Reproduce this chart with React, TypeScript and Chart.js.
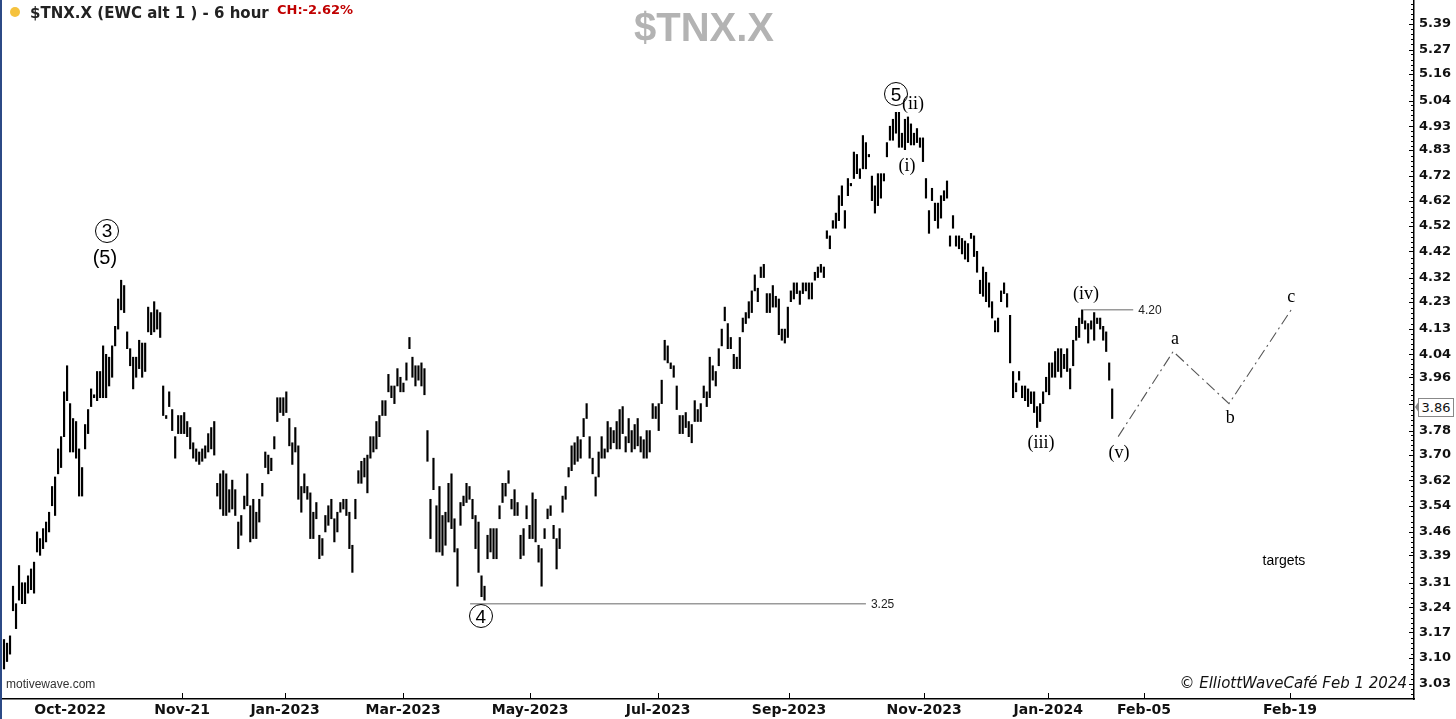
import React, { useEffect, useRef, useState } from 'react';
import { Chart, registerables } from 'chart.js';

Chart.register(...registerables);

// ---- 6-hour bars (high / low), in chronological order ----
const highs = [
  3.15,3.14,3.16,3.30,3.25,3.36,3.31,3.31,3.33,3.35,
  3.37,3.46,3.44,3.47,3.49,3.52,3.60,3.63,3.72,3.76,
  3.91,4.00,3.87,3.82,3.81,3.72,3.66,3.80,3.85,3.92,
  3.90,3.98,3.98,4.07,4.04,4.03,4.07,4.14,4.24,4.31,
  4.29,4.12,4.06,4.03,4.03,4.09,4.08,4.08,4.21,4.19,
  4.23,4.20,4.19,3.93,3.83,3.91,3.85,3.76,3.83,3.83,
  3.84,3.81,3.79,3.74,3.72,3.71,3.72,3.73,3.77,3.79,
  3.81,3.61,3.64,3.65,3.64,3.59,3.62,3.59,3.49,3.51,
  3.57,3.64,3.54,3.56,3.52,3.56,3.61,3.71,3.70,3.69,
  3.76,3.89,3.89,3.89,
  3.91,3.82,3.74,3.79,3.73,3.60,
  3.64,3.60,3.58,3.52,3.55,3.45,3.44,3.51,3.54,3.56,
  3.50,3.52,3.55,3.56,3.56,3.52,3.42,3.56,3.65,3.68,
  3.69,3.70,3.76,3.76,3.81,3.83,3.88,3.88,3.97,3.93,
  3.93,3.99,3.96,3.94,4.01,4.10,4.03,4.00,4.00,4.01,
  3.99,3.78,3.56,3.69,3.54,3.60,3.51,3.52,3.61,3.64,
  3.50,3.41,3.55,3.57,3.61,3.60,3.56,3.51,3.49,3.33,
  3.30,3.45,3.47,3.47,3.47,3.54,3.61,3.61,3.65,3.56,
  3.59,3.55,3.45,3.47,3.54,3.48,3.58,3.56,3.42,3.41,
  3.47,3.53,3.54,3.48,3.44,3.47,
  3.57,3.60,3.66,3.73,
  3.74,3.76,3.75,3.82,3.87,3.76,3.69,3.63,3.71,3.76,
  3.72,3.81,3.79,3.78,3.81,3.85,3.86,3.76,3.82,3.78,
  3.80,3.82,3.76,3.75,3.78,3.78,3.87,3.86,3.87,3.95,
  4.09,4.07,4.01,4.00,3.93,3.83,3.83,3.84,3.81,3.80,
  3.88,3.85,3.87,3.93,3.91,4.03,4.00,3.98,4.06,4.13,
  4.21,4.15,4.10,4.04,4.03,4.10,4.17,4.19,4.23,4.27,
  4.33,4.28,4.36,4.37,4.26,4.26,4.29,4.25,4.24,4.13,
  4.13,4.21,4.27,4.30,4.30,4.27,4.30,4.30,4.30,4.30,
  4.34,4.36,4.37,4.36,4.50,4.48,4.54,4.57,4.64,4.68,
  4.58,4.71,4.69,4.82,4.81,4.75,4.89,4.86,4.81,4.72,
  4.68,4.73,4.73,4.73,4.86,4.93,4.96,4.99,4.99,4.90,
  4.96,4.97,4.94,4.90,4.92,4.88,4.88,4.71,4.58,4.67,
  4.61,4.61,4.64,4.66,4.70,4.48,4.56,4.48,4.48,4.47,
  4.46,4.45,4.49,4.48,4.42,4.31,4.36,4.34,4.30,4.23,
  4.16,4.17,4.27,4.30,4.26,4.18,3.98,3.94,3.98,3.93,
  3.93,3.92,3.91,3.91,3.86,3.87,3.91,3.96,4.01,4.01,
  4.05,4.06,4.06,4.04,4.06,3.99,4.09,4.14,4.17,4.20,
  4.16,4.15,4.16,4.19,4.17,4.17,4.14,4.12,4.01,3.92,
];

const lows = [
  3.07,3.09,3.11,3.23,3.18,3.26,3.25,3.25,3.28,3.29,
  3.28,3.40,3.39,3.41,3.43,3.46,3.54,3.51,3.64,3.66,
  3.76,3.88,3.71,3.71,3.69,3.57,3.57,3.72,3.77,3.86,
  3.89,3.88,3.89,3.89,3.89,3.93,3.96,4.07,4.13,4.20,
  4.19,4.06,4.00,3.92,3.96,3.99,3.96,3.98,4.12,4.11,
  4.12,4.13,4.10,3.83,3.82,3.86,3.78,3.69,3.77,3.77,
  3.77,3.76,3.72,3.69,3.68,3.67,3.68,3.69,3.71,3.72,
  3.70,3.57,3.53,3.51,3.51,3.52,3.53,3.51,3.41,3.45,
  3.53,3.54,3.43,3.44,3.44,3.49,3.57,3.66,3.64,3.65,
  3.72,3.81,3.84,3.83,
  3.84,3.73,3.67,3.71,3.56,3.52,
  3.58,3.56,3.44,3.44,3.50,3.38,3.39,3.46,3.48,3.50,
  3.43,3.46,3.52,3.53,3.51,3.41,3.34,3.50,3.61,3.61,
  3.63,3.58,3.69,3.71,3.72,3.76,3.83,3.83,3.91,3.89,
  3.87,3.93,3.91,3.91,3.95,4.06,3.96,3.93,3.95,3.93,
  3.90,3.68,3.44,3.59,3.40,3.40,3.39,3.42,3.49,3.47,
  3.40,3.30,3.48,3.54,3.55,3.56,3.50,3.41,3.34,3.27,
  3.26,3.38,3.40,3.38,3.38,3.50,3.55,3.57,3.61,3.53,
  3.51,3.51,3.38,3.39,3.50,3.44,3.44,3.43,3.37,3.30,
  3.44,3.50,3.51,3.44,3.35,3.41,
  3.52,3.56,3.63,3.65,
  3.67,3.68,3.69,3.76,3.82,3.69,3.64,3.57,3.63,3.69,
  3.69,3.71,3.72,3.74,3.72,3.72,3.77,3.71,3.74,3.71,
  3.72,3.73,3.71,3.69,3.69,3.71,3.82,3.82,3.78,3.87,
  4.02,4.01,3.99,3.96,3.85,3.77,3.77,3.79,3.76,3.74,
  3.81,3.81,3.81,3.89,3.86,3.89,3.95,3.93,4.00,4.07,
  4.16,4.06,4.06,3.99,3.99,3.99,4.12,4.15,4.17,4.19,
  4.27,4.23,4.32,4.32,4.19,4.19,4.21,4.21,4.11,4.09,
  4.08,4.10,4.23,4.24,4.26,4.22,4.26,4.27,4.24,4.24,
  4.31,4.32,4.34,4.32,4.47,4.43,4.51,4.51,4.54,4.60,
  4.51,4.64,4.68,4.71,4.73,4.71,4.75,4.75,4.80,4.62,
  4.57,4.60,4.63,4.70,4.80,4.87,4.87,4.90,4.84,4.84,
  4.83,4.86,4.85,4.85,4.86,4.84,4.78,4.63,4.49,4.62,
  4.54,4.51,4.55,4.62,4.63,4.44,4.51,4.44,4.43,4.41,
  4.39,4.38,4.47,4.40,4.34,4.26,4.25,4.23,4.21,4.17,
  4.12,4.12,4.23,4.26,4.21,4.01,3.89,3.91,3.95,3.89,
  3.88,3.86,3.87,3.84,3.79,3.81,3.87,3.91,3.90,3.96,
  3.96,3.98,3.96,3.99,3.98,3.92,4.00,4.09,4.10,4.15,
  4.13,4.08,4.13,4.09,4.15,4.13,4.09,4.05,3.95,3.82,
];

const lastClose = 3.86;

// ---- axes ----
const yTickLabels = [
  '3.03','3.10','3.17','3.24','3.31','3.39','3.46','3.54','3.62','3.70',
  '3.78','3.87','3.96','4.04','4.13','4.23','4.32','4.42','4.52','4.62',
  '4.72','4.83','4.93','5.04','5.16','5.27','5.39',
];
const Y_MIN = 2.9906;
const Y_MAX = 5.504;

const xTickLabels = ['Oct-2022','Nov-21','Jan-2023','Mar-2023','May-2023','Jul-2023','Sep-2023','Nov-2023','Jan-2024','Feb-05','Feb-19'];
const xTickBars = [22.0, 59.3, 93.6, 132.9, 175.2, 217.8, 261.4, 306.4, 347.7, 379.6, 428.2];
const X_MIN = -0.67;
const X_MAX = 469.5;

// ---- projected path (v) -> a -> b -> c ----
const projBars = [371.0, 389.3, 407.9, 428.6];
const projVals = [3.76, 4.05, 3.87, 4.20];

// ---- horizontal levels ----
const levelVals = [3.25, 4.20];
const levelFrom = [155.2, 359.4];
const levelTo = [287.0, 376.0];

// ---- wave labels ----
const waveTexts = ['3', '(5)', '4', '5', '(i)', '(ii)', '(iii)', '(iv)', '(v)', 'a', 'b', 'c', 'targets'];
const waveBars = [34.3, 33.6, 158.8, 297.0, 300.7, 302.7, 345.3, 360.3, 371.3, 389.9, 408.3, 428.6, 426.2];
const waveVals = [4.50, 4.40, 3.215, 5.07, 4.767, 5.03, 3.743, 4.263, 3.71, 4.098, 3.825, 4.252, 3.376];

// build tick list for log y axis: majors + 4 minors between them
const yMajor = yTickLabels.map(Number);
const yStep = Math.log(yMajor[yMajor.length - 1] / yMajor[0]) / (yMajor.length - 1);
const yTicksAll: { value: number; label: string }[] = [];
for (let j = -10; j <= (yMajor.length - 1) * 5 + 10; j++) {
  const v = yMajor[0] * Math.exp((j * yStep) / 5);
  if (v < Y_MIN || v > Y_MAX) continue;
  const isMajor = j % 5 === 0 && j >= 0 && j / 5 < yTickLabels.length;
  yTicksAll.push({ value: isMajor ? yMajor[j / 5] : v, label: isMajor ? yTickLabels[j / 5] : '' });
}

const innerTicks = {
  id: 'innerTicks',
  afterDraw(chart: any) {
    const ctx = chart.ctx;
    const area = chart.chartArea;
    const xs = chart.scales.x;
    const ys = chart.scales.y;
    ctx.save();
    ctx.strokeStyle = '#000';
    ctx.lineWidth = 1;
    ys.ticks.forEach((t: any, i: number) => {
      const py = Math.round(ys.getPixelForValue(t.value)) + 0.5;
      const len = yTicksAll[i] && yTicksAll[i].label ? 5 : 3;
      ctx.beginPath();
      ctx.moveTo(area.right - len, py);
      ctx.lineTo(area.right, py);
      ctx.stroke();
    });
    xs.ticks.forEach((t: any, i: number) => {
      if (i === 0) return;
      const px = Math.round(xs.getPixelForValue(t.value)) + 0.5;
      ctx.beginPath();
      ctx.moveTo(px, area.bottom - 6);
      ctx.lineTo(px, area.bottom);
      ctx.stroke();
    });
    ctx.restore();
  },
};

export default function App() {
  const canvasRef = useRef<HTMLCanvasElement>(null);
  const [pos, setPos] = useState<any>(null);

  useEffect(() => {
    document.body.style.margin = '0';
    Chart.defaults.font.family = 'DejaVu Sans';
    const bars = highs.map((h, i) => ({ x: i, y: [lows[i], h] }));
    const datasets: any[] = [
      {
        type: 'bar',
        data: bars,
        backgroundColor: '#000',
        borderWidth: 0,
        barThickness: 1.5,
        order: 0,
      },
      {
        type: 'line',
        data: projBars.map((b, i) => ({ x: b, y: projVals[i] })),
        borderColor: '#555',
        borderWidth: 1.1,
        borderDash: [11, 4, 2, 4],
        pointRadius: 0,
        tension: 0,
        order: 1,
      },
      ...levelVals.map((v, k) => ({
        type: 'line',
        data: [
          { x: levelFrom[k], y: v },
          { x: levelTo[k], y: v },
        ],
        borderColor: '#9a9a9a',
        borderWidth: 1.5,
        pointRadius: 0,
        order: 2,
      })),
    ];

    const chart = new Chart(canvasRef.current as HTMLCanvasElement, {
      type: 'bar',
      data: { datasets },
      plugins: [innerTicks],
      options: {
        animation: false,
        responsive: false,
        maintainAspectRatio: false,
        events: [],
        layout: { padding: { left: 2, top: 0, right: 0, bottom: 0 } },
        plugins: { legend: { display: false }, tooltip: { enabled: false } },
        scales: {
          x: {
            type: 'linear',
            min: X_MIN,
            max: X_MAX,
            offset: false,
            position: 'bottom',
            grid: { display: false, drawTicks: false },
            border: { display: true, color: '#000', width: 1.5 },
            afterBuildTicks: (s: any) => {
              s.ticks = xTickBars.map((v) => ({ value: v }));
            },
            ticks: {
              autoSkip: false,
              maxRotation: 0,
              padding: 3,
              color: '#111',
              font: { family: 'DejaVu Sans', weight: 'bold', size: 14 },
              callback: (_v: any, i: number) => xTickLabels[i],
            },
            afterFit: (s: any) => {
              s.height = 20;
              s.paddingLeft = 0;
              s.paddingRight = 0;
            },
          },
          y: {
            type: 'logarithmic',
            position: 'right',
            min: Y_MIN,
            max: Y_MAX,
            bounds: 'data',
            grid: { display: false, drawTicks: false },
            border: { display: true, color: '#000', width: 1.5 },
            afterBuildTicks: (s: any) => {
              s.ticks = yTicksAll.map((t) => ({ value: t.value }));
            },
            ticks: {
              autoSkip: false,
              padding: 5,
              color: '#111',
              font: { family: 'DejaVu Sans', weight: 'bold', size: 13 },
              callback: (_v: any, i: number) => (yTicksAll[i] ? yTicksAll[i].label : ''),
            },
            afterFit: (s: any) => {
              s.width = 42;
              s.paddingTop = 0;
              s.paddingBottom = 0;
            },
          },
        },
      } as any,
    });

    const xs: any = chart.scales.x;
    const ys: any = chart.scales.y;
    setPos({
      waves: waveTexts.map((_, k) => [xs.getPixelForValue(waveBars[k]), ys.getPixelForValue(waveVals[k])]),
      levels: levelVals.map((v, k) => [xs.getPixelForValue(levelTo[k]), ys.getPixelForValue(v)]),
      last: ys.getPixelForValue(lastClose),
      right: chart.chartArea.right,
    });
    return () => chart.destroy();
  }, []);

  const abs: React.CSSProperties = { position: 'absolute', whiteSpace: 'nowrap' };

  const renderWave = (t: string, k: number) => {
    if (!pos) return null;
    const [x, y] = pos.waves[k];
    if (/^\d$/.test(t)) {
      return (
        <div
          key={k}
          style={{
            ...abs,
            left: x,
            top: y,
            width: 22,
            height: 22,
            transform: 'translate(-50%,-50%)',
            border: '1.3px solid #000',
            borderRadius: '50%',
            display: 'flex',
            alignItems: 'center',
            justifyContent: 'center',
            font: '19px "Liberation Sans", Arial, sans-serif',
            lineHeight: '19px',
            color: '#000',
            background: 'transparent',
          }}
        >
          {t}
        </div>
      );
    }
    const isSans = t === '(5)';
    const isPlain = t === 'targets';
    return (
      <div
        key={k}
        style={{
          ...abs,
          left: x,
          top: y,
          transform: 'translate(-50%,-50%)',
          font: isPlain
            ? '14px "Liberation Sans", Arial, sans-serif'
            : isSans
            ? '20px "Liberation Sans", Arial, sans-serif'
            : '18px "Liberation Serif", "Times New Roman", serif',
          lineHeight: '20px',
          color: '#000',
        }}
      >
        {t}
      </div>
    );
  };

  return (
    <div style={{ position: 'relative', width: 1456, height: 719, overflow: 'hidden', background: '#fff' }}>
      <canvas ref={canvasRef} width={1456} height={719} style={{ display: 'block' }} />
      <div style={{ ...abs, left: 0, top: 0, width: 2, height: 719, background: '#2c4a86' }} />
      <div style={{ ...abs, left: 10, top: 7, width: 10, height: 10, borderRadius: '50%', background: '#f5c23e' }} />
      <div style={{ ...abs, left: 30, top: 4, font: 'bold 15px "DejaVu Sans", Verdana, sans-serif', color: '#222' }}>
        $TNX.X (EWC alt 1 ) - 6 hour
      </div>
      <div style={{ ...abs, left: 277, top: 2, font: 'bold 13px "DejaVu Sans", Verdana, sans-serif', color: '#c00000' }}>
        CH:-2.62%
      </div>
      <div
        style={{
          ...abs,
          left: 704,
          top: 6,
          transform: 'translateX(-50%)',
          font: 'bold 40px "Liberation Sans", Arial, sans-serif',
          lineHeight: '42px',
          color: '#b3b3b3',
        }}
      >
        $TNX.X
      </div>
      <div style={{ ...abs, left: 6, top: 677, font: '12px "Liberation Sans", Arial, sans-serif', color: '#333' }}>
        motivewave.com
      </div>
      <div
        style={{
          ...abs,
          right: 1456 - 1407,
          top: 674,
          font: 'italic 15px "DejaVu Sans", Verdana, sans-serif',
          color: '#111',
        }}
      >
        © ElliottWaveCafé Feb 1 2024
      </div>
      {pos &&
        pos.levels.map((p: number[], k: number) => (
          <div
            key={'lv' + k}
            style={{
              ...abs,
              left: p[0] + 5,
              top: p[1] - 8,
              font: '12px "Liberation Sans", Arial, sans-serif',
              lineHeight: '16px',
              color: '#222',
            }}
          >
            {levelVals[k].toFixed(2)}
          </div>
        ))}
      {waveTexts.map(renderWave)}
      {pos && (
        <>
          <div
            style={{
              position: 'absolute',
              left: pos.right + 1,
              top: pos.last - 6,
              width: 0,
              height: 0,
              borderTop: '6px solid transparent',
              borderBottom: '6px solid transparent',
              borderRight: '4px solid #888',
            }}
          />
          <div
            style={{
              ...abs,
              left: pos.right + 4,
              top: pos.last - 9,
              width: 34,
              height: 17,
              border: '1px solid #888',
              background: '#fff',
              font: '13px "DejaVu Sans", Verdana, sans-serif',
              lineHeight: '17px',
              textAlign: 'center',
              color: '#111',
            }}
          >
            {lastClose.toFixed(2)}
          </div>
        </>
      )}
    </div>
  );
}
